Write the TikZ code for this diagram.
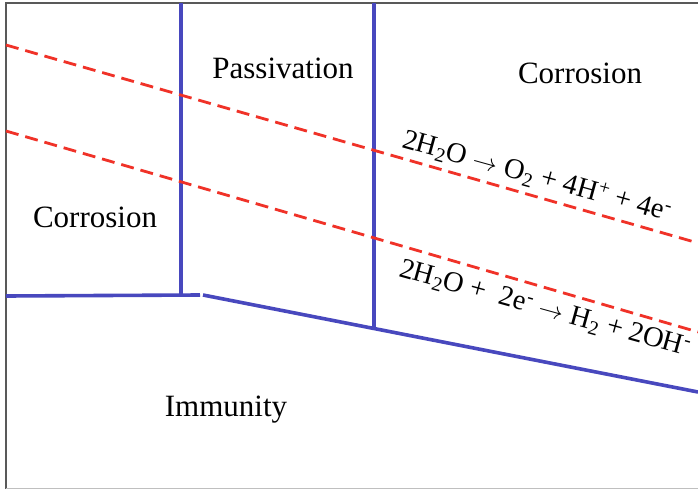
\documentclass[tikz,border=0pt]{standalone}
\usepackage{fontspec}
\setmainfont{Liberation Serif}
\begin{document}
\begin{tikzpicture}[x=1pt,y=-1pt,
  frameline/.style={draw=black!65,line width=2pt},
  bound/.style={draw=bluel,line width=3.6pt},
  redline/.style={draw=redl,line width=2.8pt,dash pattern=on 13pt off 7pt},
  lab/.style={font=\fontsize{31}{36}\selectfont,inner sep=0pt},
  eqn/.style={font=\fontsize{28.5}{33}\selectfont,inner sep=0pt,anchor=base west,rotate=-15.5}]
\definecolor{bluel}{RGB}{72,72,190}
\definecolor{redl}{RGB}{240,50,40}
\useasboundingbox (0,0) rectangle (698,489);
\fill[white] (0,0) rectangle (698,489);
% frame
\coordinate (ftl) at (6,3);
\coordinate (ftr) at (698,3);
\coordinate (fbl) at (6,489);
\coordinate (fbr) at (698,488);
\draw[frameline] (ftr) -- (ftl) -- (fbl);
\draw[draw=black!25,line width=1pt] (6,488) -- (fbr);
% blue boundaries
\coordinate (v1t) at (181,3);
\coordinate (v1b) at (181,295);
\coordinate (v2t) at (374,3);
\coordinate (v2b) at (374,328);
\coordinate (hl) at (6,296);
\coordinate (hm) at (200,295);
\coordinate (sl) at (203,295);
\coordinate (sr) at (698,392);
\draw[bound] (v1t) -- (v1b);
\draw[bound] (v2t) -- (v2b);
\draw[bound] (hl) -- (hm);
\draw[bound] (sl) -- (sr);
% red dashed lines
\coordinate (r1a) at (6,45);
\coordinate (r1b) at (698,243);
\coordinate (r2a) at (6,131);
\coordinate (r2b) at (698,332);
\draw[redline] (r1a) -- (r1b);
\draw[redline] (r2a) -- (r2b);
% labels
\node[lab] (pass) at (283,68) {Passivation};
\node[lab] (corr1) at (580,73) {Corrosion};
\node[lab] (corr2) at (95,217) {Corrosion};
\node[lab] (imm) at (226,410) {Immunity};
\node[eqn] (eq1) at (401,147) {2H\textsubscript{2}O $\rightarrow$ O\textsubscript{2} + 4H\textsuperscript{+} + 4e\textsuperscript{-}};
\node[eqn] (eq2) at (398,276) {2H\textsubscript{2}O +\enspace 2e\textsuperscript{-} $\rightarrow$ H\textsubscript{2} + 2OH\textsuperscript{-}};
\end{tikzpicture}
\end{document}
